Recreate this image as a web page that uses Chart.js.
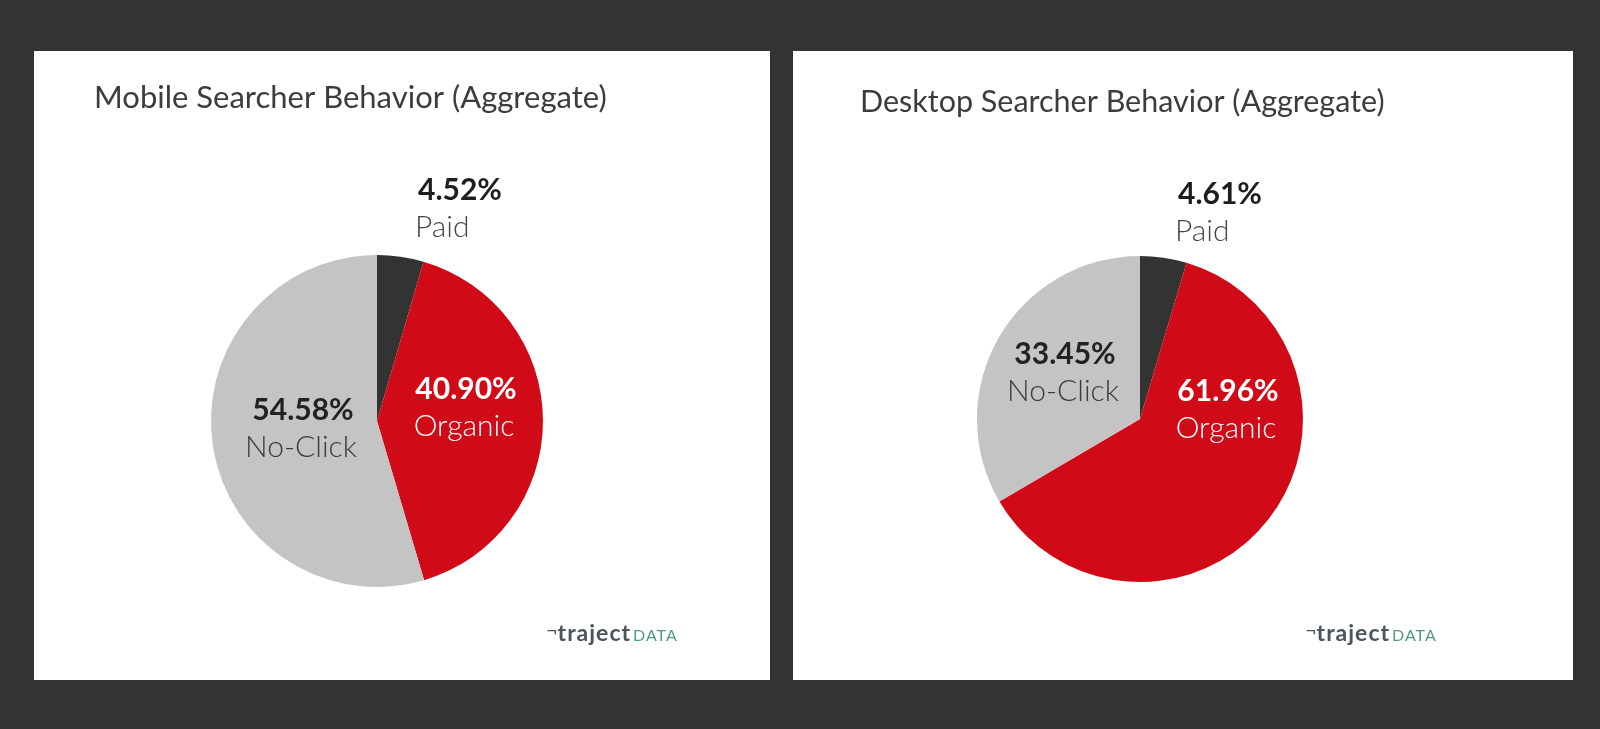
<!DOCTYPE html>
<html>
<head>
<meta charset="utf-8">
<script src="https://cdn.jsdelivr.net/npm/chart.js@4.4.1/dist/chart.umd.min.js"></script>
<style>
  html, body { margin: 0; padding: 0; background: #333333; }
  body { width: 1600px; height: 729px; position: relative; overflow: hidden; }
  .panel { position: absolute; top: 51px; height: 629px; background: #ffffff; }
  #panelMobile { left: 34px; width: 736px; }
  #panelDesktop { left: 793px; width: 780px; }
</style>
</head>
<body>
<div class="panel" id="panelMobile"><canvas id="mobileChart" width="736" height="629"></canvas></div>
<div class="panel" id="panelDesktop"><canvas id="desktopChart" width="780" height="629"></canvas></div>
<script>
// Data
const categories = ['Paid', 'Organic', 'No-Click'];
const mobileValues = [4.52, 40.90, 54.58];
const desktopValues = [4.61, 61.96, 33.45];
const chartTitles = ['Mobile Searcher Behavior (Aggregate)', 'Desktop Searcher Behavior (Aggregate)'];

const sliceColors = ['#333333', '#d10a17', '#c4c4c4'];
const labelColors = ['#1e1e1e', '#ffffff', '#222222'];
const nameColors = ['#444444', '#ffffff', '#3a3a3a'];

// draws title, slice labels and logo on the canvas
const panelText = {
    id: 'panelText',
    afterDraw(chart, args, opts) {
        const ctx = chart.ctx;
        const arcs = chart.getDatasetMeta(0).data;
        const values = chart.data.datasets[0].data;
        ctx.save();

        // title
        ctx.fillStyle = '#3c3c3c';
        ctx.font = "400 " + opts.titleSize + "px Lato";
        ctx.textAlign = 'left';
        ctx.textBaseline = 'middle';
        ctx.fillText(opts.title, opts.titleX, opts.titleY);

        // slice labels
        for (let i = 0; i < arcs.length; i++) {
            const arc = arcs[i];
            const off = opts.offsets[i];
            const x = arc.x + off[0];
            const y = arc.y + off[1];
            ctx.textAlign = off[2];
            ctx.fillStyle = labelColors[i];
            ctx.font = "700 30px Lato";
            ctx.fillText(values[i].toFixed(2) + '%', x, y - 18);
            ctx.fillStyle = nameColors[i];
            ctx.font = "300 30px Lato";
            ctx.fillText(chart.data.labels[i], x + (off[2] === 'left' ? -3 : -2), y + 19);
        }

        // logo
        let lx = opts.logoX;
        ctx.textAlign = 'left';
        ctx.fillStyle = '#4a555c';
        ctx.font = "400 20px Lato";
        ctx.fillText('\u00AC', lx, opts.logoY - 3);
        lx += ctx.measureText('\u00AC').width;
        ctx.font = "700 23px Lato";
        ctx.letterSpacing = '1px';
        ctx.fillText('traject', lx, opts.logoY);
        lx += ctx.measureText('traject').width + 2;
        ctx.fillStyle = '#4e9b7b';
        ctx.font = "400 16px Lato";
        ctx.fillText('DATA', lx, opts.logoY + 2);
        ctx.restore();
    }
};

const makePie = (id, values, title, padding, opts) => {
    const ctx = document.getElementById(id).getContext('2d');
    return new Chart(ctx, {
        type: 'pie',
        data: {
            labels: categories,
            datasets: [{
                data: values,
                backgroundColor: sliceColors,
                borderWidth: 0
            }]
        },
        options: {
            responsive: false,
            animation: false,
            layout: { padding: padding },
            plugins: {
                legend: { display: false },
                tooltip: { enabled: false },
                title: { display: false },
                panelText: Object.assign({ title: title }, opts)
            }
        },
        plugins: [panelText]
    });
};

makePie('mobileChart', mobileValues, chartTitles[0],
    { left: 177, right: 227, top: 204, bottom: 93 },
    {
        titleX: 60, titleY: 47, titleSize: 31, logoX: 512, logoY: 583,
        offsets: [[41, -213, 'left'], [89, -14, 'center'], [-74, 7, 'center']]
    });

makePie('desktopChart', desktopValues, chartTitles[1],
    { left: 184, right: 270, top: 205, bottom: 98 },
    {
        titleX: 67, titleY: 51, titleSize: 30.5, logoX: 512, logoY: 583,
        offsets: [[38, -207, 'left'], [88, -10, 'center'], [-75, -47, 'center']]
    });
</script>
</body>
</html>
